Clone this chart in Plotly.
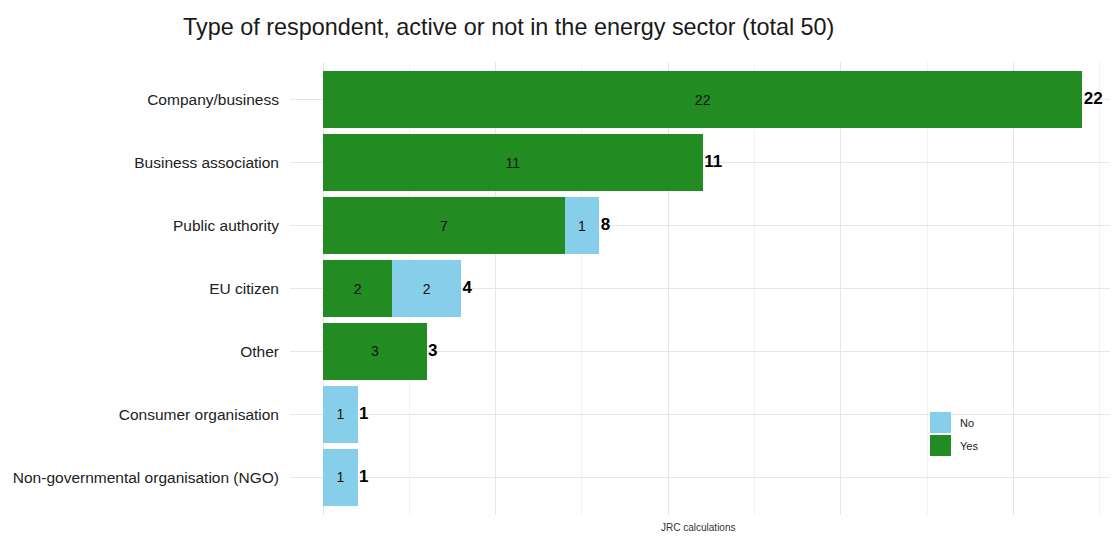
import plotly.graph_objects as go

categories = ["Company/business", "Business association", "Public authority", "EU citizen",
              "Other", "Consumer organisation", "Non-governmental organisation (NGO)"]
yes_vals = [22, 11, 7, 2, 3, 0, 0]
no_vals = [0, 0, 1, 2, 0, 1, 1]
totals = [y + n for y, n in zip(yes_vals, no_vals)]
legend_labels = ["No", "Yes"]

GREEN = "#228B22"
BLUE = "#87CEEB"
FONT = "Arial, Liberation Sans, sans-serif"

fig = go.Figure()
fig.add_trace(go.Bar(
    y=categories, x=yes_vals, orientation="h", name="Yes", marker_color=GREEN,
    marker_line_width=0,
    text=[str(v) if v else "" for v in yes_vals], textposition="inside",
    insidetextanchor="middle", textfont=dict(color="#111111", size=14, family=FONT),
    hoverinfo="x+y", showlegend=False,
))
fig.add_trace(go.Bar(
    y=categories, x=no_vals, orientation="h", name="No", marker_color=BLUE,
    marker_line_width=0,
    text=[str(v) if v else "" for v in no_vals], textposition="inside",
    insidetextanchor="middle", textfont=dict(color="#111111", size=14, family=FONT),
    hoverinfo="x+y", showlegend=False,
))
fig.add_trace(go.Scatter(
    y=categories, x=totals, mode="text", text=["\u200a" + str(t) for t in totals],
    textposition="middle right", showlegend=False,
    textfont=dict(color="black", size=17, family=FONT),
    texttemplate="<b>%{text}</b>", hoverinfo="skip",
))

# plot area geometry (pixels) used to place legend
L, R, T, B = 290, 1110, 62, 515
W, H = R - L, B - T


def px(x):
    return (x - L) / W


def py(y):
    return (B - y) / H


legend_colors = [BLUE, GREEN]
legend_tops = [412, 435]
for lab, col, top in zip(legend_labels, legend_colors, legend_tops):
    fig.add_shape(type="rect", xref="paper", yref="paper",
                  x0=px(930), x1=px(951), y0=py(top + 21), y1=py(top),
                  fillcolor=col, line=dict(width=0))
    fig.add_annotation(text=lab, xref="paper", yref="paper", x=px(958), y=py(top + 10.5),
                       xanchor="left", yanchor="middle", showarrow=False,
                       font=dict(size=11, color="#1a1a1a", family=FONT))

fig.update_layout(
    width=1112, height=536,
    barmode="stack", bargap=0.1,
    plot_bgcolor="white", paper_bgcolor="white",
    font=dict(family=FONT, color="#1a1a1a"),
    margin=dict(l=L, r=1112 - R, t=T, b=536 - B),
    title=dict(text="Type of respondent, active or not in the energy sector (total 50)",
               x=183 / 1112, xanchor="left", xref="container", y=1 - 27 / 536,
               yref="container", yanchor="middle",
               font=dict(size=23.4, color="#1a1a1a", family=FONT)),
    showlegend=False,
)
fig.update_xaxes(
    range=[-0.96, 22.8], showticklabels=False, zeroline=False,
    showgrid=True, gridcolor="#e6e6e6", gridwidth=1, dtick=5, tick0=0,
    minor=dict(dtick=2.5, tick0=0, showgrid=True, gridcolor="#f2f2f2", gridwidth=1),
    showline=False,
)
fig.update_yaxes(
    autorange=False, range=[6.6, -0.6], showgrid=True, gridcolor="#e6e6e6", gridwidth=1,
    tickfont=dict(size=15.5, color="#222222"), ticklabelstandoff=10, showline=False,
)
fig.add_annotation(text="JRC calculations", xref="paper", yref="paper",
                   x=0.497, y=-0.012, xanchor="center", yanchor="top", showarrow=False,
                   font=dict(size=10, color="#333333", family=FONT))

fig.write_html("out.html", post_script="document.body.style.margin='0';",
               config={"displayModeBar": False})
